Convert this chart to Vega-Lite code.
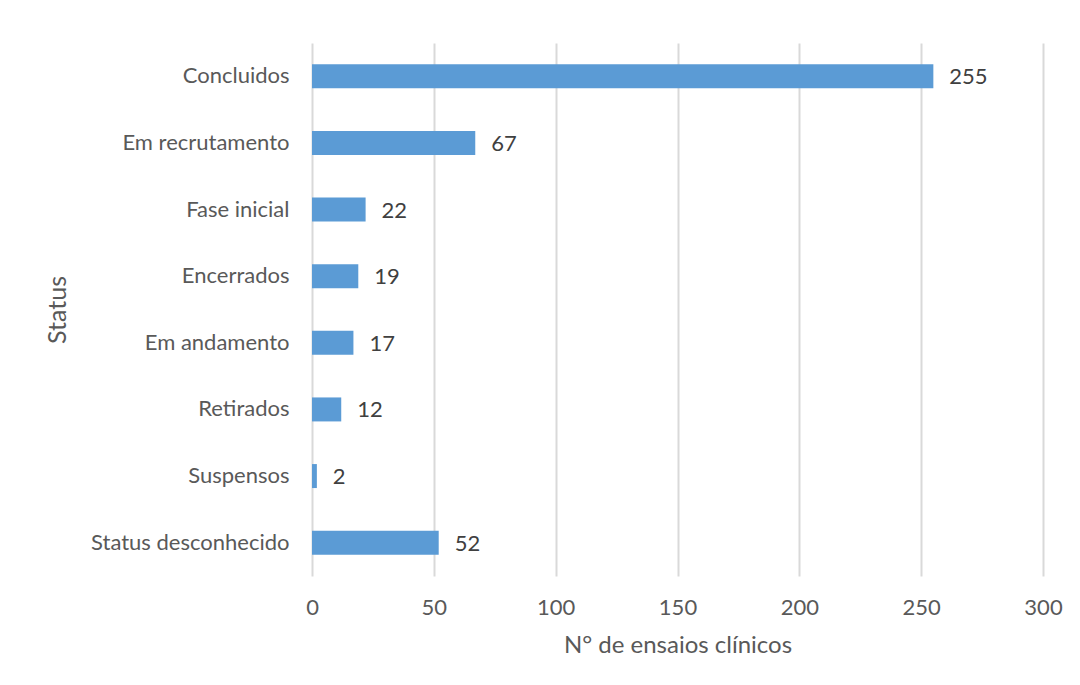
{
  "$schema": "https://vega.github.io/schema/vega-lite/v6.json",
  "width": 731,
  "height": 533,
  "autosize": "none",
  "padding": {"left": 312, "top": 43, "right": 37, "bottom": 109},
  "background": "white",
  "data": {
    "values": [
      {"status": "Concluidos", "n": 255},
      {"status": "Em recrutamento", "n": 67},
      {"status": "Fase inicial", "n": 22},
      {"status": "Encerrados", "n": 19},
      {"status": "Em andamento", "n": 17},
      {"status": "Retirados", "n": 12},
      {"status": "Suspensos", "n": 2},
      {"status": "Status desconhecido", "n": 52}
    ]
  },
  "encoding": {
    "y": {
      "field": "status",
      "type": "nominal",
      "sort": null,
      "scale": {"paddingInner": 0.64, "paddingOuter": 0.32},
      "axis": {
        "title": "Status",
        "titleFontSize": 25,
        "titleX": -242,
        "titleBaseline": "bottom",
        "ticks": false,
        "domain": false,
        "grid": false,
        "labelLimit": 320,
        "labelPadding": 23
      }
    },
    "x": {
      "field": "n",
      "type": "quantitative",
      "scale": {"domain": [0, 300], "nice": false},
      "axis": {
        "title": "N° de ensaios clínicos",
        "values": [0, 50, 100, 150, 200, 250, 300],
        "ticks": false,
        "domain": false,
        "grid": true,
        "gridColor": "#d9d9d9",
        "gridWidth": 2,
        "labelFlush": false,
        "labelPadding": 21,
        "titlePadding": 15
      }
    }
  },
  "layer": [
    {"mark": {"type": "bar", "color": "#5b9bd5"}},
    {
      "mark": {"type": "text", "align": "left", "baseline": "middle", "dx": 16, "dy": 1, "fontSize": 22, "color": "#404040", "font": "Lato"},
      "encoding": {"text": {"field": "n", "type": "quantitative"}}
    }
  ],
  "config": {
    "view": {"stroke": null},
    "axis": {
      "labelFont": "Lato",
      "labelFontSize": 22,
      "labelColor": "#595959",
      "titleFont": "Lato",
      "titleFontSize": 24,
      "titleFontWeight": "normal",
      "titleColor": "#595959"
    }
  }
}
